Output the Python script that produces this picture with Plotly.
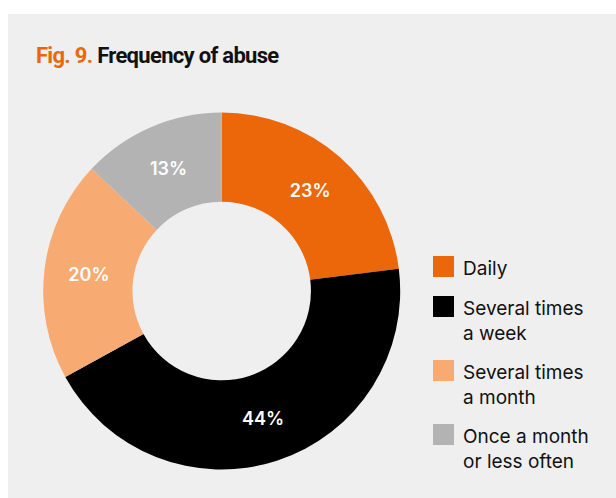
import plotly.graph_objects as go

# Frequency of abuse, share of respondents (%)
categories = ["Daily", "Several times a week", "Several times a month", "Once a month or less often"]
legend_labels = ["Daily", "Several times<br>a week", "Several times<br>a month", "Once a month<br>or less often"]
values = [23, 44, 20, 13]
colors = ["#EB670A", "#000000", "#F7AA71", "#B3B3B3"]

W, H = 616, 498
BG = "#EFEFEF"


def px(x):
    return x / W


def py(y):
    return 1 - y / H


fig = go.Figure(
    go.Pie(
        labels=categories,
        values=values,
        hole=0.5,
        sort=False,
        direction="clockwise",
        rotation=0,
        marker=dict(colors=colors, line=dict(width=0)),
        texttemplate="%{value}%",
        textposition="inside",
        insidetextorientation="horizontal",
        insidetextfont=dict(family="Inter, Roboto, sans-serif", size=18, color="white", weight=600),
        showlegend=False,
        domain=dict(x=[px(221.7 - 178.5), px(221.7 + 178.5)], y=[py(291 + 178.5), py(291 - 178.5)]),
    )
)

shapes = [
    dict(type="rect", xref="paper", yref="paper", x0=px(8), x1=1.0, y0=0.0, y1=py(14),
         fillcolor=BG, line=dict(width=0), layer="below")
]
tight = "letter-spacing:-0.7px"
annotations = [
    dict(
        text=(f"<b><span style='color:#EB670A;{tight}'>Fig. 9.</span>"
              f"<span style='{tight}'> Frequency of abuse</span></b>"),
        xref="paper", yref="paper", x=px(34), y=py(55), xanchor="left", yanchor="middle",
        showarrow=False,
        font=dict(family="Roboto, sans-serif", size=22, color="#111111"),
    )
]

# legend: swatch tops and label positions
swatch_tops = [256, 296, 360, 424]
for lab, col, top in zip(legend_labels, colors, swatch_tops):
    shapes.append(dict(type="rect", xref="paper", yref="paper",
                       x0=px(433), x1=px(454), y0=py(top + 21), y1=py(top),
                       fillcolor=col, line=dict(width=0)))
    annotations.append(dict(
        text=lab, xref="paper", yref="paper", x=px(461), y=py(top - 1),
        xanchor="left", yanchor="top", align="left", showarrow=False,
        font=dict(family="Inter, Roboto, sans-serif", size=19, color="#111111"),
    ))

fig.update_layout(
    width=W, height=H,
    margin=dict(l=0, r=0, t=0, b=0),
    paper_bgcolor="white",
    plot_bgcolor=BG,
    shapes=shapes,
    annotations=annotations,
)

fig.write_html("out.html")
